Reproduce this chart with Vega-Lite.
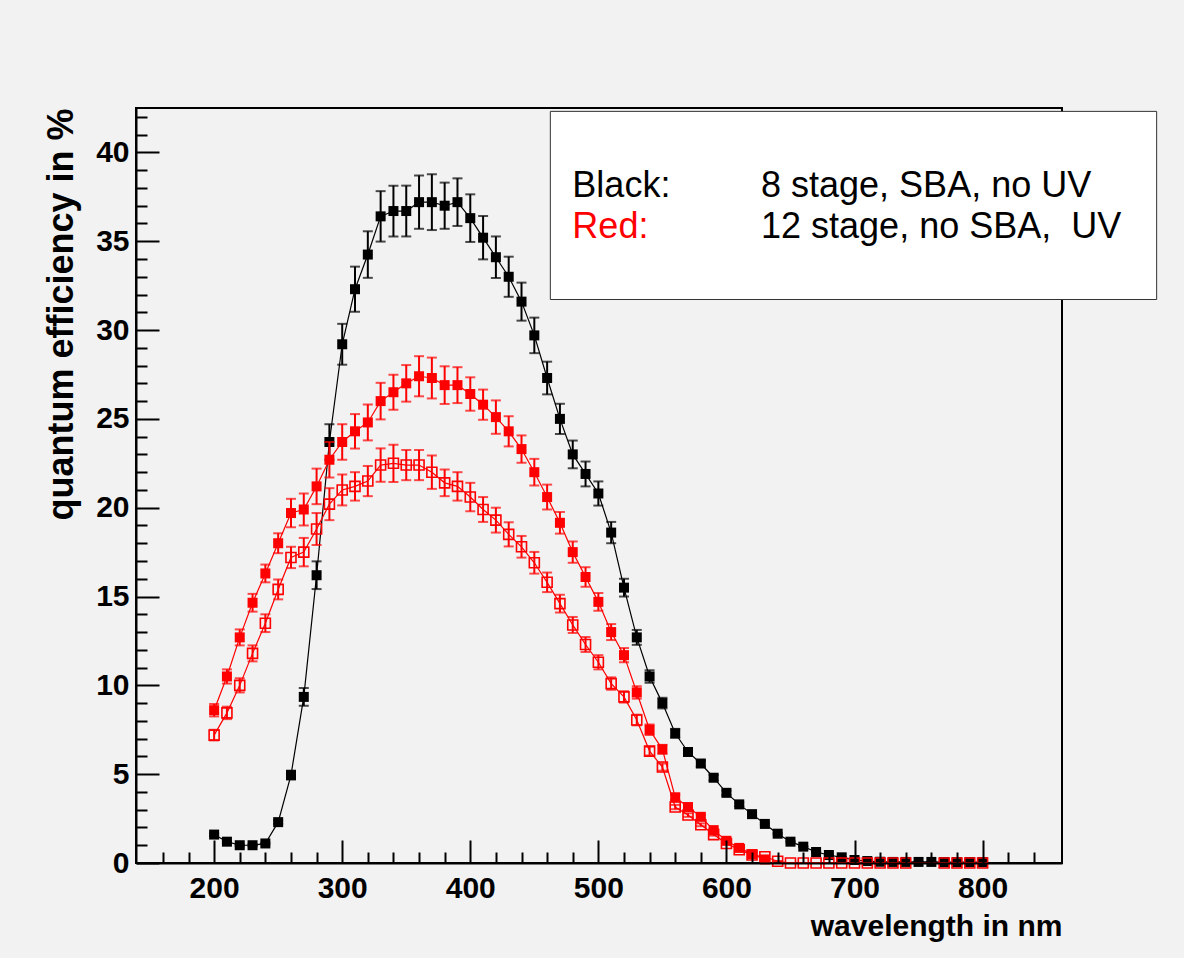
{
  "$schema": "https://vega.github.io/schema/vega-lite/v6.json",
  "width": 926,
  "height": 755,
  "autosize": "none",
  "padding": {"left": 136, "top": 108, "right": 122, "bottom": 95},
  "background": "#f2f2f2",
  "config": {
    "view": {"stroke": "#000000", "strokeWidth": 2, "fill": "#f2f2f2"},
    "axis": {"grid": false}
  },
  "resolve": {"axis": {"x": "independent", "y": "independent"}},
  "datasets": {
    "qe": [
      {"series": "black", "wl": 200, "qe": 1.6, "err": 0.07},
      {"series": "black", "wl": 210, "qe": 1.2, "err": 0.05},
      {"series": "black", "wl": 220, "qe": 1.0, "err": 0.05},
      {"series": "black", "wl": 230, "qe": 1.0, "err": 0.05},
      {"series": "black", "wl": 240, "qe": 1.1, "err": 0.05},
      {"series": "black", "wl": 250, "qe": 2.3, "err": 0.1},
      {"series": "black", "wl": 260, "qe": 4.95, "err": 0.25},
      {"series": "black", "wl": 270, "qe": 9.35, "err": 0.5},
      {"series": "black", "wl": 280, "qe": 16.2, "err": 0.78},
      {"series": "black", "wl": 290, "qe": 23.7, "err": 1.0},
      {"series": "black", "wl": 300, "qe": 29.2, "err": 1.15},
      {"series": "black", "wl": 310, "qe": 32.3, "err": 1.27},
      {"series": "black", "wl": 320, "qe": 34.25, "err": 1.31},
      {"series": "black", "wl": 330, "qe": 36.4, "err": 1.42},
      {"series": "black", "wl": 340, "qe": 36.7, "err": 1.43},
      {"series": "black", "wl": 350, "qe": 36.7, "err": 1.43},
      {"series": "black", "wl": 360, "qe": 37.2, "err": 1.5},
      {"series": "black", "wl": 370, "qe": 37.2, "err": 1.57},
      {"series": "black", "wl": 380, "qe": 37.0, "err": 1.3},
      {"series": "black", "wl": 390, "qe": 37.2, "err": 1.34},
      {"series": "black", "wl": 400, "qe": 36.3, "err": 1.34},
      {"series": "black", "wl": 410, "qe": 35.2, "err": 1.22},
      {"series": "black", "wl": 420, "qe": 34.1, "err": 1.17},
      {"series": "black", "wl": 430, "qe": 33.0, "err": 1.13},
      {"series": "black", "wl": 440, "qe": 31.6, "err": 1.07},
      {"series": "black", "wl": 450, "qe": 29.7, "err": 1.0},
      {"series": "black", "wl": 460, "qe": 27.3, "err": 0.92},
      {"series": "black", "wl": 470, "qe": 25.0, "err": 0.85},
      {"series": "black", "wl": 480, "qe": 23.0, "err": 0.78},
      {"series": "black", "wl": 490, "qe": 21.9, "err": 0.7},
      {"series": "black", "wl": 500, "qe": 20.8, "err": 0.68},
      {"series": "black", "wl": 510, "qe": 18.6, "err": 0.6},
      {"series": "black", "wl": 520, "qe": 15.5, "err": 0.5},
      {"series": "black", "wl": 530, "qe": 12.7, "err": 0.42},
      {"series": "black", "wl": 540, "qe": 10.5, "err": 0.35},
      {"series": "black", "wl": 550, "qe": 9.0, "err": 0.3},
      {"series": "black", "wl": 560, "qe": 7.3, "err": 0.25},
      {"series": "black", "wl": 570, "qe": 6.25, "err": 0.2},
      {"series": "black", "wl": 580, "qe": 5.6, "err": 0.18},
      {"series": "black", "wl": 590, "qe": 4.8, "err": 0.15},
      {"series": "black", "wl": 600, "qe": 3.95, "err": 0.13},
      {"series": "black", "wl": 610, "qe": 3.3, "err": 0.1},
      {"series": "black", "wl": 620, "qe": 2.75, "err": 0.09},
      {"series": "black", "wl": 630, "qe": 2.2, "err": 0.07},
      {"series": "black", "wl": 640, "qe": 1.65, "err": 0.05},
      {"series": "black", "wl": 650, "qe": 1.2, "err": 0.04},
      {"series": "black", "wl": 660, "qe": 0.92, "err": 0.03},
      {"series": "black", "wl": 670, "qe": 0.62, "err": 0.02},
      {"series": "black", "wl": 680, "qe": 0.45, "err": 0.02},
      {"series": "black", "wl": 690, "qe": 0.32, "err": 0.01},
      {"series": "black", "wl": 700, "qe": 0.17, "err": 0.01},
      {"series": "black", "wl": 710, "qe": 0.11, "err": 0.01},
      {"series": "black", "wl": 720, "qe": 0.07, "err": 0.01},
      {"series": "black", "wl": 730, "qe": 0.06, "err": 0.01},
      {"series": "black", "wl": 740, "qe": 0.06, "err": 0.01},
      {"series": "black", "wl": 750, "qe": 0.06, "err": 0.01},
      {"series": "black", "wl": 760, "qe": 0.06, "err": 0.01},
      {"series": "black", "wl": 770, "qe": 0.05, "err": 0.01},
      {"series": "black", "wl": 780, "qe": 0.05, "err": 0.01},
      {"series": "black", "wl": 790, "qe": 0.05, "err": 0.01},
      {"series": "black", "wl": 800, "qe": 0.05, "err": 0.01},

      {"series": "red_filled", "wl": 200, "qe": 8.6, "err": 0.35},
      {"series": "red_filled", "wl": 210, "qe": 10.5, "err": 0.4},
      {"series": "red_filled", "wl": 220, "qe": 12.7, "err": 0.45},
      {"series": "red_filled", "wl": 230, "qe": 14.65, "err": 0.5},
      {"series": "red_filled", "wl": 240, "qe": 16.3, "err": 0.5},
      {"series": "red_filled", "wl": 250, "qe": 18.0, "err": 0.56},
      {"series": "red_filled", "wl": 260, "qe": 19.7, "err": 0.8},
      {"series": "red_filled", "wl": 270, "qe": 19.9, "err": 0.9},
      {"series": "red_filled", "wl": 280, "qe": 21.2, "err": 1.0},
      {"series": "red_filled", "wl": 290, "qe": 22.7, "err": 1.0},
      {"series": "red_filled", "wl": 300, "qe": 23.7, "err": 1.0},
      {"series": "red_filled", "wl": 310, "qe": 24.3, "err": 0.97},
      {"series": "red_filled", "wl": 320, "qe": 24.8, "err": 1.01},
      {"series": "red_filled", "wl": 330, "qe": 26.0, "err": 1.03},
      {"series": "red_filled", "wl": 340, "qe": 26.5, "err": 0.99},
      {"series": "red_filled", "wl": 350, "qe": 27.0, "err": 1.03},
      {"series": "red_filled", "wl": 360, "qe": 27.4, "err": 1.13},
      {"series": "red_filled", "wl": 370, "qe": 27.3, "err": 1.15},
      {"series": "red_filled", "wl": 380, "qe": 26.9, "err": 1.06},
      {"series": "red_filled", "wl": 390, "qe": 26.9, "err": 1.01},
      {"series": "red_filled", "wl": 400, "qe": 26.4, "err": 0.94},
      {"series": "red_filled", "wl": 410, "qe": 25.8, "err": 0.85},
      {"series": "red_filled", "wl": 420, "qe": 25.1, "err": 0.94},
      {"series": "red_filled", "wl": 430, "qe": 24.3, "err": 0.85},
      {"series": "red_filled", "wl": 440, "qe": 23.3, "err": 0.77},
      {"series": "red_filled", "wl": 450, "qe": 22.0, "err": 0.75},
      {"series": "red_filled", "wl": 460, "qe": 20.6, "err": 0.7},
      {"series": "red_filled", "wl": 470, "qe": 19.15, "err": 0.61},
      {"series": "red_filled", "wl": 480, "qe": 17.5, "err": 0.6},
      {"series": "red_filled", "wl": 490, "qe": 16.1, "err": 0.55},
      {"series": "red_filled", "wl": 500, "qe": 14.7, "err": 0.5},
      {"series": "red_filled", "wl": 510, "qe": 13.0, "err": 0.45},
      {"series": "red_filled", "wl": 520, "qe": 11.7, "err": 0.4},
      {"series": "red_filled", "wl": 530, "qe": 9.6, "err": 0.35},
      {"series": "red_filled", "wl": 540, "qe": 7.5, "err": 0.3},
      {"series": "red_filled", "wl": 550, "qe": 6.4, "err": 0.25},
      {"series": "red_filled", "wl": 560, "qe": 3.7, "err": 0.15},
      {"series": "red_filled", "wl": 570, "qe": 3.15, "err": 0.12},
      {"series": "red_filled", "wl": 580, "qe": 2.6, "err": 0.1},
      {"series": "red_filled", "wl": 590, "qe": 1.85, "err": 0.08},
      {"series": "red_filled", "wl": 600, "qe": 1.25, "err": 0.06},
      {"series": "red_filled", "wl": 610, "qe": 0.85, "err": 0.04},
      {"series": "red_filled", "wl": 620, "qe": 0.5, "err": 0.03},
      {"series": "red_filled", "wl": 630, "qe": 0.2, "err": 0.02},

      {"series": "red_open", "wl": 200, "qe": 7.2, "err": 0.3},
      {"series": "red_open", "wl": 210, "qe": 8.45, "err": 0.35},
      {"series": "red_open", "wl": 220, "qe": 10.0, "err": 0.4},
      {"series": "red_open", "wl": 230, "qe": 11.8, "err": 0.45},
      {"series": "red_open", "wl": 240, "qe": 13.5, "err": 0.5},
      {"series": "red_open", "wl": 250, "qe": 15.4, "err": 0.56},
      {"series": "red_open", "wl": 260, "qe": 17.2, "err": 0.6},
      {"series": "red_open", "wl": 270, "qe": 17.5, "err": 0.8},
      {"series": "red_open", "wl": 280, "qe": 18.8, "err": 0.9},
      {"series": "red_open", "wl": 290, "qe": 20.2, "err": 0.9},
      {"series": "red_open", "wl": 300, "qe": 21.0, "err": 0.87},
      {"series": "red_open", "wl": 310, "qe": 21.2, "err": 0.8},
      {"series": "red_open", "wl": 320, "qe": 21.5, "err": 0.85},
      {"series": "red_open", "wl": 330, "qe": 22.4, "err": 0.94},
      {"series": "red_open", "wl": 340, "qe": 22.5, "err": 1.05},
      {"series": "red_open", "wl": 350, "qe": 22.4, "err": 0.85},
      {"series": "red_open", "wl": 360, "qe": 22.4, "err": 0.85},
      {"series": "red_open", "wl": 370, "qe": 22.0, "err": 0.94},
      {"series": "red_open", "wl": 380, "qe": 21.4, "err": 0.75},
      {"series": "red_open", "wl": 390, "qe": 21.2, "err": 0.8},
      {"series": "red_open", "wl": 400, "qe": 20.6, "err": 0.8},
      {"series": "red_open", "wl": 410, "qe": 19.9, "err": 0.7},
      {"series": "red_open", "wl": 420, "qe": 19.3, "err": 0.7},
      {"series": "red_open", "wl": 430, "qe": 18.5, "err": 0.68},
      {"series": "red_open", "wl": 440, "qe": 17.8, "err": 0.61},
      {"series": "red_open", "wl": 450, "qe": 16.9, "err": 0.61},
      {"series": "red_open", "wl": 460, "qe": 15.8, "err": 0.55},
      {"series": "red_open", "wl": 470, "qe": 14.6, "err": 0.5},
      {"series": "red_open", "wl": 480, "qe": 13.4, "err": 0.45},
      {"series": "red_open", "wl": 490, "qe": 12.3, "err": 0.42},
      {"series": "red_open", "wl": 500, "qe": 11.3, "err": 0.4},
      {"series": "red_open", "wl": 510, "qe": 10.1, "err": 0.35},
      {"series": "red_open", "wl": 520, "qe": 9.35, "err": 0.32},
      {"series": "red_open", "wl": 530, "qe": 8.05, "err": 0.3},
      {"series": "red_open", "wl": 540, "qe": 6.3, "err": 0.25},
      {"series": "red_open", "wl": 550, "qe": 5.4, "err": 0.2},
      {"series": "red_open", "wl": 560, "qe": 3.15, "err": 0.12},
      {"series": "red_open", "wl": 570, "qe": 2.7, "err": 0.1},
      {"series": "red_open", "wl": 580, "qe": 2.15, "err": 0.08},
      {"series": "red_open", "wl": 590, "qe": 1.6, "err": 0.06},
      {"series": "red_open", "wl": 600, "qe": 1.1, "err": 0.05},
      {"series": "red_open", "wl": 610, "qe": 0.75, "err": 0.04},
      {"series": "red_open", "wl": 620, "qe": 0.45, "err": 0.03},
      {"series": "red_open", "wl": 630, "qe": 0.35, "err": 0.02},
      {"series": "red_open", "wl": 640, "qe": 0.1, "err": 0.01},
      {"series": "red_open", "wl": 650, "qe": 0.0, "err": 0.0},
      {"series": "red_open", "wl": 660, "qe": 0.0, "err": 0.0},
      {"series": "red_open", "wl": 670, "qe": 0.0, "err": 0.0},
      {"series": "red_open", "wl": 680, "qe": 0.0, "err": 0.0},
      {"series": "red_open", "wl": 690, "qe": 0.0, "err": 0.0},
      {"series": "red_open", "wl": 700, "qe": 0.0, "err": 0.0},
      {"series": "red_open", "wl": 710, "qe": 0.0, "err": 0.0},
      {"series": "red_open", "wl": 720, "qe": 0.0, "err": 0.0},
      {"series": "red_open", "wl": 730, "qe": 0.0, "err": 0.0},
      {"series": "red_open", "wl": 740, "qe": 0.0, "err": 0.0},
      {"series": "red_open", "wl": 770, "qe": 0.0, "err": 0.0},
      {"series": "red_open", "wl": 780, "qe": 0.0, "err": 0.0},
      {"series": "red_open", "wl": 790, "qe": 0.0, "err": 0.0},
      {"series": "red_open", "wl": 800, "qe": 0.0, "err": 0.0}
    ]
  },
  "layer": [
    {
      "data": {"name": "qe"},
      "encoding": {
        "x": {
          "field": "wl", "type": "quantitative",
          "scale": {"domain": [139, 862], "nice": false, "zero": false},
          "axis": {
            "title": "wavelength in nm",
            "values": [160,180,200,220,240,260,280,300,320,340,360,380,400,420,440,460,480,500,520,540,560,580,600,620,640,660,680,700,720,740,760,780,800,820,840],
            "labelExpr": "datum.value % 100 === 0 ? datum.label : ''",
            "format": "d",
            "tickSize": {"condition": {"test": "datum.value % 100 === 0", "value": -23}, "value": -11},
            "tickColor": "#000", "tickWidth": 2,
            "domainColor": "#000", "domainWidth": 2,
            "labelFont": "Liberation Sans, Arial, sans-serif",
            "labelFontWeight": "bold", "labelFontSize": 30, "labelColor": "#000",
            "labelPadding": 33, "labelOverlap": false, "labelFlush": false, "labelBound": false,
            "titleFont": "Liberation Sans, Arial, sans-serif",
            "titleFontWeight": "bold", "titleFontSize": 30, "titleColor": "#000",
            "titleAnchor": "end", "titlePadding": -4,
            "zindex": 1
          }
        },
        "y": {
          "field": "qe", "type": "quantitative",
          "scale": {"domain": [0, 42.5], "nice": false},
          "axis": {
            "title": "quantum efficiency in %",
            "values": [0,1,2,3,4,5,6,7,8,9,10,11,12,13,14,15,16,17,18,19,20,21,22,23,24,25,26,27,28,29,30,31,32,33,34,35,36,37,38,39,40,41,42],
            "labelExpr": "datum.value % 5 === 0 ? datum.label : ''",
            "format": "d",
            "tickSize": {"condition": {"test": "datum.value % 5 === 0", "value": -23}, "value": -11},
            "tickColor": "#000", "tickWidth": 2,
            "domainColor": "#000", "domainWidth": 2,
            "labelFont": "Liberation Sans, Arial, sans-serif",
            "labelFontWeight": "bold", "labelFontSize": 30, "labelColor": "#000",
            "labelPadding": 30, "labelOverlap": false, "labelFlush": false, "labelBound": false,
            "titleFont": "Liberation Sans, Arial, sans-serif",
            "titleFontWeight": "bold", "titleFontSize": 36, "titleColor": "#000",
            "titleAnchor": "end", "titlePadding": 15,
            "zindex": 1
          }
        }
      },
      "layer": [
        {"transform": [{"filter": "datum.series === 'black'"}], "mark": {"type": "line", "color": "#000", "strokeWidth": 1.2}},
        {"transform": [{"filter": "datum.series === 'black'"}], "mark": {"type": "errorbar", "color": "#000", "thickness": 2, "ticks": {"size": 10, "thickness": 2, "color": "#000"}}, "encoding": {"yError": {"field": "err"}}},
        {"transform": [{"filter": "datum.series === 'black'"}], "mark": {"type": "square", "size": 100, "filled": true, "color": "#000", "opacity": 1}},
        {"transform": [{"filter": "datum.series === 'red_filled'"}], "mark": {"type": "line", "color": "#ff0000", "strokeWidth": 1.2}},
        {"transform": [{"filter": "datum.series === 'red_filled'"}], "mark": {"type": "errorbar", "color": "#ff0000", "thickness": 2, "ticks": {"size": 10, "thickness": 2, "color": "#ff0000"}}, "encoding": {"yError": {"field": "err"}}},
        {"transform": [{"filter": "datum.series === 'red_filled'"}], "mark": {"type": "square", "size": 100, "filled": true, "color": "#ff0000", "opacity": 1}},
        {"transform": [{"filter": "datum.series === 'red_open'"}], "mark": {"type": "line", "color": "#ff0000", "strokeWidth": 1.2}},
        {"transform": [{"filter": "datum.series === 'red_open'"}], "mark": {"type": "errorbar", "color": "#ff0000", "thickness": 2, "ticks": {"size": 10, "thickness": 2, "color": "#ff0000"}}, "encoding": {"yError": {"field": "err"}}},
        {"transform": [{"filter": "datum.series === 'red_open'"}], "mark": {"type": "square", "size": 100, "filled": false, "color": "#ff0000", "strokeWidth": 1.6, "opacity": 1}}
      ]
    },
    {
      "data": {"values": [{}]},
      "mark": {"type": "rect", "fill": "#ffffff", "stroke": "#333333", "strokeWidth": 1},
      "encoding": {
        "x": {"datum": 462.5, "type": "quantitative", "axis": null},
        "x2": {"datum": 935.9},
        "y": {"datum": 42.31, "type": "quantitative", "axis": null},
        "y2": {"datum": 31.72}
      }
    },
    {
      "data": {"values": [{}]},
      "mark": {"type": "text", "align": "left", "baseline": "alphabetic", "font": "Liberation Sans, Arial, sans-serif", "fontSize": 36, "color": "#000000"},
      "encoding": {"x": {"datum": 479.7, "type": "quantitative", "axis": null}, "y": {"datum": 37.5, "type": "quantitative", "axis": null}, "text": {"value": "Black:"}}
    },
    {
      "data": {"values": [{}]},
      "mark": {"type": "text", "align": "left", "baseline": "alphabetic", "font": "Liberation Sans, Arial, sans-serif", "fontSize": 36, "color": "#000000"},
      "encoding": {"x": {"datum": 627, "type": "quantitative", "axis": null}, "y": {"datum": 37.5, "type": "quantitative", "axis": null}, "text": {"value": "8 stage, SBA, no UV"}}
    },
    {
      "data": {"values": [{}]},
      "mark": {"type": "text", "align": "left", "baseline": "alphabetic", "font": "Liberation Sans, Arial, sans-serif", "fontSize": 36, "color": "#ff0000"},
      "encoding": {"x": {"datum": 479.7, "type": "quantitative", "axis": null}, "y": {"datum": 35.19, "type": "quantitative", "axis": null}, "text": {"value": "Red:"}}
    },
    {
      "data": {"values": [{}]},
      "mark": {"type": "text", "align": "left", "baseline": "alphabetic", "font": "Liberation Sans, Arial, sans-serif", "fontSize": 36, "color": "#000000"},
      "encoding": {"x": {"datum": 627, "type": "quantitative", "axis": null}, "y": {"datum": 35.19, "type": "quantitative", "axis": null}, "text": {"value": "12 stage, no SBA,\u00a0 UV"}}
    }
  ]
}
